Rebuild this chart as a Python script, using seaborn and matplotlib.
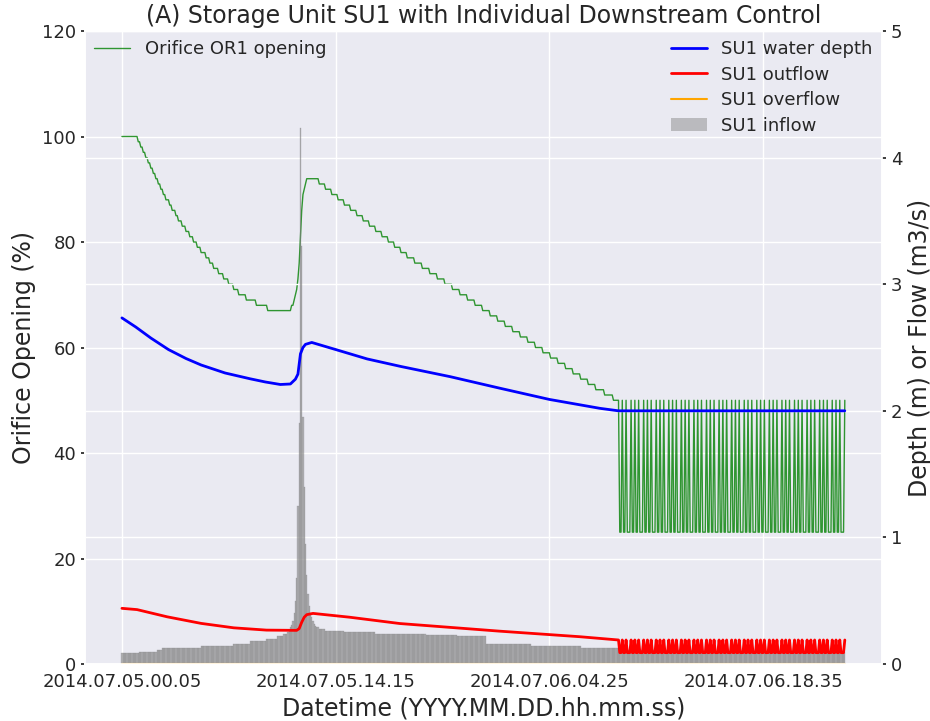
import numpy as np
import matplotlib
matplotlib.use('Agg')
import matplotlib.pyplot as plt
import seaborn as sns
from matplotlib.lines import Line2D
from matplotlib.patches import Patch

# --- Data (5-minute steps, index 0 = 2014.07.05.00.05) ---

n_steps = 576
tick_pos = [0, 170, 340, 510]
tick_labels = ['2014.07.05.00.05', '2014.07.05.14.15', '2014.07.06.04.25', '2014.07.06.18.35']

# Orifice OR1 opening (%), run-length encoded: value and number of 5-min steps
orifice_vals = [100, 99, 98, 97, 96, 95, 94, 93, 92, 91,
                90, 89, 88, 87, 86, 85, 84,
                83, 82, 81, 80, 79,
                78, 77, 76, 75,
                74, 73, 72, 71,
                70, 69, 68, 67,
                68, 68, 69, 70, 71, 73, 76, 81, 86, 89, 90, 91,
                92,
                91, 90, 89, 88, 87, 86, 85, 84, 83, 82, 81, 80, 79, 78,
                77, 76, 75, 74, 73, 72, 71, 70, 69, 68, 67, 66, 65, 64,
                63, 62, 61, 60, 59, 58, 57, 56, 55, 54, 53, 52, 51,
                50]
orifice_counts = [13, 2, 2, 2, 2, 2, 2, 2, 2, 2,
                  2, 2, 3, 2, 3, 2, 3,
                  3, 3, 3, 3, 3,
                  4, 3, 3, 4,
                  4, 4, 4, 4,
                  6, 8, 9, 19,
                  1, 1, 1, 1, 1, 1, 1, 1, 1, 1, 1, 1,
                  10,
                  5, 5, 5, 5, 5, 5, 5, 5, 5, 5, 5, 5, 5, 5,
                  6, 6, 6, 6, 6, 6, 6, 6, 6, 6, 6, 6, 6, 6,
                  6, 6, 6, 6, 6, 6, 6, 6, 6, 6, 6, 7, 7,
                  5]
# last 180 steps: gate hunting between 25 % and 50 %
orifice_osc_cycle = [25, 25, 50, 25, 25, 50, 25, 25, 25, 50]
outflow_osc_cycle = [0.09, 0.09, 0.19, 0.09, 0.09, 0.19, 0.09, 0.09, 0.09, 0.19]
osc_repeats = 18

# SU1 water depth (m), readings at step index
depth_idx = [0, 11, 23, 37, 51, 63, 82, 102, 114, 126, 134, 138, 140, 142, 144, 146,
             151, 168, 195, 222, 261, 300, 340, 380, 395, 575]
depth_val = [2.734, 2.662, 2.575, 2.484, 2.413, 2.362, 2.299, 2.253, 2.228, 2.208,
             2.212, 2.25, 2.29, 2.45, 2.50, 2.525, 2.54, 2.49, 2.41, 2.35, 2.27,
             2.18, 2.09, 2.02, 2.00, 2.00]

# SU1 outflow (m3/s), readings at step index (before the hunting starts)
outflow_idx = [0, 12, 36, 63, 89, 115, 139, 141, 143, 145, 147, 152, 181, 221, 261,
               300, 364, 395]
outflow_val = [0.44, 0.43, 0.373, 0.321, 0.286, 0.268, 0.266, 0.28, 0.33, 0.37, 0.39,
               0.40, 0.37, 0.32, 0.29, 0.26, 0.216, 0.19]

# SU1 inflow (m3/s), run-length encoded
inflow_vals = [0.09, 0.095, 0.11, 0.124, 0.13, 0.14, 0.16, 0.18, 0.20, 0.22, 0.24,
               0.25, 0.27, 0.29, 0.31, 0.34, 0.40, 0.50, 0.68, 1.25, 1.9, 4.23, 3.3,
               1.95, 1.4, 0.95, 0.70, 0.55, 0.46, 0.40, 0.37, 0.34, 0.32, 0.30, 0.29,
               0.28, 0.26, 0.25, 0.24, 0.23, 0.22, 0.155, 0.145, 0.125, 0.11, 0.095]
inflow_counts = [14, 14, 4, 4, 27, 26, 13, 13, 9, 5, 3,
                 1, 1, 1, 1, 1, 1, 1, 1, 1, 1, 1, 1,
                 1, 1, 1, 1, 1, 1, 1, 1, 1, 1, 1, 2,
                 5, 15, 25, 40, 25, 23, 36, 40, 31, 64, 115]

# SU1 overflow (m3/s): none during the event
overflow_val = [0.0] * n_steps


# --- Build series ---

orifice = np.concatenate([np.repeat(orifice_vals, orifice_counts),
                          np.tile(orifice_osc_cycle, osc_repeats)])
inflow = np.repeat(inflow_vals, inflow_counts)
steps = np.arange(n_steps)
osc_idx = np.arange(len(orifice) - len(orifice_osc_cycle) * osc_repeats, n_steps)
outflow_x = np.concatenate([outflow_idx, osc_idx])
outflow_y = np.concatenate([outflow_val, np.tile(outflow_osc_cycle, osc_repeats)])

# --- Plot ---

sns.set_theme(style='darkgrid')
plt.rcParams['font.family'] = ['DejaVu Sans']

fig, ax = plt.subplots(figsize=(9.3, 7.21), dpi=100)
ax2 = ax.twinx()

sns.lineplot(x=steps, y=orifice, ax=ax, color='green', linewidth=1, alpha=0.8)

ax2.bar(steps, inflow, width=1.0, color='gray', alpha=0.55,
        edgecolor='gray', linewidth=0.3)
sns.lineplot(x=depth_idx, y=depth_val, ax=ax2, color='blue', linewidth=2)
sns.lineplot(x=outflow_x, y=outflow_y, ax=ax2, color='red', linewidth=2)
sns.lineplot(x=steps, y=overflow_val, ax=ax2, color='orange', linewidth=1.5)

ax.set_ylim(0, 120)
ax2.set_ylim(0, 5)
ax.set_xticks(tick_pos)
ax.set_xticklabels(tick_labels)
ax.tick_params(axis='both', labelsize=13, length=3, color='#262626')
ax2.tick_params(axis='y', labelsize=13, length=3, color='#262626')

ax.set_xlabel('Datetime (YYYY.MM.DD.hh.mm.ss)', fontsize=17)
ax.set_ylabel('Orifice Opening (%)', fontsize=17)
ax2.set_ylabel('Depth (m) or Flow (m3/s)', fontsize=17)
ax.set_title('(A) Storage Unit SU1 with Individual Downstream Control', fontsize=17)

ax.legend(handles=[Line2D([], [], color='green', linewidth=1, alpha=0.8)],
          labels=['Orifice OR1 opening'], loc='upper left', fontsize=13,
          frameon=False, borderaxespad=0.1)
ax2.legend(handles=[Line2D([], [], color='blue', linewidth=2),
                    Line2D([], [], color='red', linewidth=2),
                    Line2D([], [], color='orange', linewidth=1.5),
                    Patch(facecolor='gray', edgecolor='none', alpha=0.45)],
           labels=['SU1 water depth', 'SU1 outflow', 'SU1 overflow', 'SU1 inflow'],
           loc='upper right', fontsize=13, frameon=False, borderaxespad=0.1,
           labelspacing=0.42)

fig.subplots_adjust(left=0.0915, right=0.948, top=0.957, bottom=0.079)
plt.savefig('out.png')
plt.close()
